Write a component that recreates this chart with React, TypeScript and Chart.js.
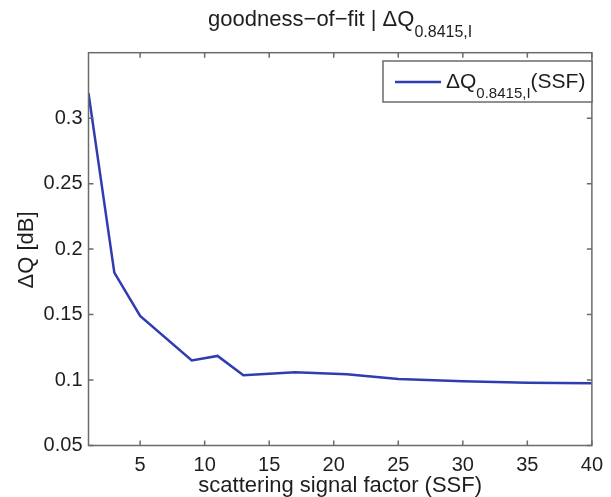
import React, { useEffect, useRef } from 'react';
import { Chart, registerables } from 'chart.js';

Chart.register(...registerables);

const ssf = [1, 3, 5, 9, 11, 13, 17, 21, 25, 30, 35, 40];
const deltaQ = [0.319, 0.182, 0.149, 0.115, 0.1184, 0.1037, 0.106, 0.1045, 0.1007, 0.099, 0.098, 0.0976];
const xTicks = [5, 10, 15, 20, 25, 30, 35, 40];
const yTicks = [0.05, 0.1, 0.15, 0.2, 0.25, 0.3];
const titleMain = 'goodness\u2212of\u2212fit | \u0394Q';
const titleSub = '0.8415,I';
const legendMain = '\u0394Q';
const legendSub = '0.8415,I';
const legendTail = '(SSF)';
const xLabel = 'scattering signal factor (SSF)';
const yLabel = '\u0394Q [dB]';

const FONT = '"Liberation Sans", Arial, Helvetica, sans-serif';
const LINE = '#2f3db0';
const AXIS = '#6b6b6b';
const TEXT = '#1e1e1e';

const overlay = {
  id: 'overlay',
  afterDraw(chart: any) {
    const ctx = chart.ctx as CanvasRenderingContext2D;
    const a = chart.chartArea;
    const xs = chart.scales.x;
    const ys = chart.scales.y;
    ctx.save();
    // box
    ctx.strokeStyle = AXIS;
    ctx.lineWidth = 1.5;
    ctx.strokeRect(a.left, a.top, a.right - a.left, a.bottom - a.top);
    // inside ticks
    const tl = 5;
    ctx.beginPath();
    xTicks.forEach((v) => {
      const px = xs.getPixelForValue(v);
      ctx.moveTo(px, a.bottom);
      ctx.lineTo(px, a.bottom - tl);
      ctx.moveTo(px, a.top);
      ctx.lineTo(px, a.top + tl);
    });
    yTicks.forEach((v) => {
      const py = ys.getPixelForValue(v);
      ctx.moveTo(a.left, py);
      ctx.lineTo(a.left + tl, py);
      ctx.moveTo(a.right, py);
      ctx.lineTo(a.right - tl, py);
    });
    ctx.stroke();

    ctx.fillStyle = TEXT;
    ctx.textBaseline = 'alphabetic';
    // title
    const mainFont = `22px ${FONT}`;
    const subFont = `16px ${FONT}`;
    ctx.font = mainFont;
    const wMain = ctx.measureText(titleMain).width;
    ctx.font = subFont;
    const wSub = ctx.measureText(titleSub).width;
    const cx = (a.left + a.right) / 2;
    const tx = cx - (wMain + wSub) / 2;
    ctx.textAlign = 'left';
    ctx.font = mainFont;
    ctx.fillText(titleMain, tx, 26);
    ctx.font = subFont;
    ctx.fillText(titleSub, tx + wMain, 37);

    // x label
    ctx.font = mainFont;
    ctx.textAlign = 'center';
    ctx.fillText(xLabel, cx, 492);

    // y label
    ctx.save();
    ctx.translate(33, 250);
    ctx.rotate(-Math.PI / 2);
    ctx.textAlign = 'center';
    ctx.fillText(yLabel, 0, 0);
    ctx.restore();

    // legend
    const bx = 383, by = 61, bw = 209, bh = 41;
    ctx.fillStyle = '#ffffff';
    ctx.fillRect(bx, by, bw, bh);
    ctx.strokeStyle = AXIS;
    ctx.lineWidth = 1.5;
    ctx.strokeRect(bx, by, bw, bh);
    ctx.strokeStyle = LINE;
    ctx.lineWidth = 2.5;
    ctx.beginPath();
    ctx.moveTo(395, 82);
    ctx.lineTo(441, 82);
    ctx.stroke();
    ctx.fillStyle = TEXT;
    ctx.textAlign = 'left';
    const lMain = `21px ${FONT}`;
    const lSub = `15px ${FONT}`;
    let lx = 446;
    ctx.font = lMain;
    ctx.fillText(legendMain, lx, 88);
    lx += ctx.measureText(legendMain).width;
    ctx.font = lSub;
    ctx.fillText(legendSub, lx, 98);
    lx += ctx.measureText(legendSub).width;
    ctx.font = lMain;
    ctx.fillText(legendTail, lx, 88);
    ctx.restore();
  },
};

export default function App() {
  const ref = useRef<HTMLCanvasElement | null>(null);
  useEffect(() => {
    document.body.style.margin = '0';
    if (!ref.current) return;
    const chart = new Chart(ref.current, {
      type: 'line',
      data: {
        datasets: [
          {
            label: 'dQ',
            data: ssf.map((x, i) => ({ x, y: deltaQ[i] })),
            borderColor: LINE,
            borderWidth: 2.5,
            pointRadius: 0,
            fill: false,
            tension: 0,
          },
        ],
      },
      options: {
        animation: false,
        responsive: true,
        maintainAspectRatio: false,
        layout: { padding: { left: 0, right: 11, top: 52.7, bottom: 0 } },
        plugins: { legend: { display: false }, title: { display: false }, tooltip: { enabled: false } },
        scales: {
          x: {
            type: 'linear',
            min: 1,
            max: 40,
            grid: { display: false, drawTicks: false, tickLength: 0 },
            border: { display: false },
            afterBuildTicks: (s: any) => {
              s.ticks = xTicks.map((v) => ({ value: v }));
            },
            afterFit: (s: any) => {
              s.height = 51.5;
            },
            ticks: {
              autoSkip: false,
              maxRotation: 0,
              padding: 8,
              color: TEXT,
              font: { family: FONT, size: 20 },
              callback: (v: any) => String(v),
            },
          },
          y: {
            type: 'linear',
            min: 0.05,
            max: 0.35,
            grid: { display: false, drawTicks: false, tickLength: 0 },
            border: { display: false },
            afterBuildTicks: (s: any) => {
              s.ticks = yTicks.map((v) => ({ value: v }));
            },
            afterFit: (s: any) => {
              s.width = 88.5;
            },
            ticks: {
              autoSkip: false,
              padding: 6,
              color: TEXT,
              font: { family: FONT, size: 20 },
              callback: (v: any) => String(v),
            },
          },
        },
      },
      plugins: [overlay],
    });
    return () => chart.destroy();
  }, []);
  return (
    <div style={{ width: 611, height: 497, position: 'relative' }}>
      <canvas ref={ref} />
    </div>
  );
}
